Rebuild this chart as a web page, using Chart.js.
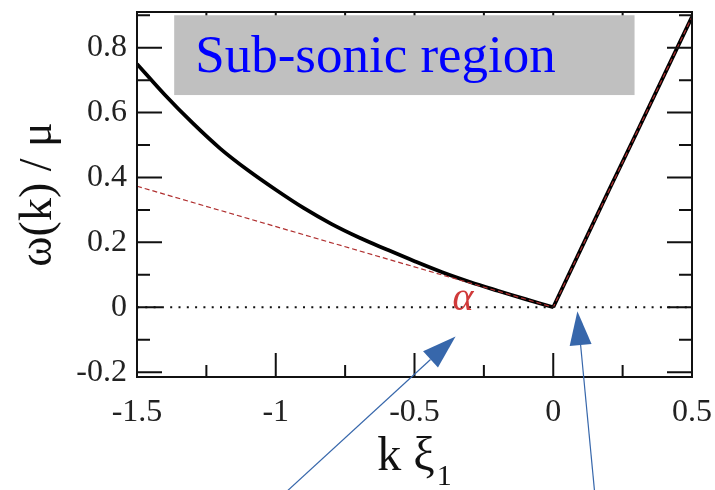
<!DOCTYPE html>
<html>
<head>
<meta charset="utf-8">
<script src="https://cdn.jsdelivr.net/npm/chart.js@4/dist/chart.umd.min.js"></script>
<style>
  body { margin: 0; background: #fff; }
  #wrap { width: 715px; height: 490px; }
</style>
</head>
<body>
<div id="wrap"><canvas id="chart" width="715" height="490"></canvas></div>
<script>
// dispersion curve, left and right of k = 0
const kLeft = [-1.5, -1.4, -1.3, -1.2, -1.1, -1.0, -0.9, -0.8, -0.7, -0.6, -0.5, -0.4, -0.3, -0.2, -0.1, 0];
const omegaLeft = [0.75, 0.655, 0.568, 0.489, 0.422, 0.362, 0.306, 0.257, 0.215, 0.178, 0.142, 0.108, 0.078, 0.051, 0.025, 0];
const kRight = [0, 0.1, 0.2, 0.3, 0.4, 0.5];
const omegaRight = [0, 0.18, 0.36, 0.537, 0.716, 0.895];
// red dashed tangent lines through the origin
const tangentK = [-1.5, 0, 0.5];
const tangentOmega = [0.373, 0, 0.895];
// dotted zero line
const zeroK = [-1.5, 0.5];
const zeroOmega = [0, 0];

// ticks
const xMajor = [-1.5, -1, -0.5, 0, 0.5];
const xLabels = ['-1.5', '-1', '-0.5', '0', '0.5'];
const xMinor = [-1.25, -0.75, -0.25, 0.25];
const yMajor = [-0.2, 0, 0.2, 0.4, 0.6, 0.8];
const yLabels = ['-0.2', '0', '0.2', '0.4', '0.6', '0.8'];
const yMinor = [-0.1, 0.1, 0.3, 0.5, 0.7, 0.9];

// annotations (data coordinates)
const boxK = [-1.366, 0.293];
const boxOmega = [0.9, 0.654];
const boxText = 'Sub-sonic region';
const alphaPos = [-0.325, 0.024];
const arrows = [
  { from: [-0.962, -0.569], to: [-0.352, -0.09] },
  { from: [0.149, -0.569], to: [0.087, -0.012] }
];

function pts(xs, ys) {
  return xs.map((x, i) => ({ x: x, y: ys[i] }));
}

const serif = '"Liberation Serif", "Times New Roman", serif';

const decorPlugin = {
  id: 'decor',
  afterDatasetsDraw(chart) {
    const ctx = chart.ctx;
    const xs = chart.scales.x, ys = chart.scales.y;
    const a = chart.chartArea;
    ctx.save();
    ctx.strokeStyle = '#111';
    ctx.lineWidth = 2;
    // inward ticks on all four sides
    const tick = (vals, len) => {
      vals.forEach(v => {
        const px = xs.getPixelForValue(v);
        ctx.beginPath();
        ctx.moveTo(px, a.bottom); ctx.lineTo(px, a.bottom - len);
        ctx.moveTo(px, a.top); ctx.lineTo(px, a.top + len);
        ctx.stroke();
      });
    };
    const tickY = (vals, len) => {
      vals.forEach(v => {
        const py = ys.getPixelForValue(v);
        ctx.beginPath();
        ctx.moveTo(a.left, py); ctx.lineTo(a.left + len, py);
        ctx.moveTo(a.right, py); ctx.lineTo(a.right - len, py);
        ctx.stroke();
      });
    };
    tick(xMajor, 24); tick(xMinor, 12);
    tickY(yMajor, 25); tickY(yMinor, 13);
    ctx.strokeRect(a.left, a.top, a.right - a.left, a.bottom - a.top);

    // grey label box
    const bx0 = xs.getPixelForValue(boxK[0]), bx1 = xs.getPixelForValue(boxK[1]);
    const by0 = ys.getPixelForValue(boxOmega[0]), by1 = ys.getPixelForValue(boxOmega[1]);
    ctx.fillStyle = '#c0c0c0';
    ctx.fillRect(bx0, by0, bx1 - bx0, by1 - by0);
    ctx.fillStyle = '#0000ff';
    ctx.font = '53px ' + serif;
    ctx.textBaseline = 'alphabetic';
    ctx.textAlign = 'left';
    ctx.fillText(boxText, bx0 + 21, by1 - 23);

    // alpha label
    ctx.fillStyle = '#d03a3a';
    ctx.font = 'italic 40px ' + serif;
    ctx.textAlign = 'center';
    ctx.textBaseline = 'alphabetic';
    ctx.fillText('α', xs.getPixelForValue(alphaPos[0]), ys.getPixelForValue(alphaPos[1]) + 11);

    // x axis title with subscript
    ctx.fillStyle = '#111';
    ctx.textAlign = 'left';
    ctx.font = '48px ' + serif;
    const w1 = ctx.measureText('k ξ').width;
    ctx.font = '30px ' + serif;
    const w2 = ctx.measureText('1').width;
    const x0 = (a.left + a.right) / 2 - (w1 + 2 + w2) / 2;
    ctx.font = '48px ' + serif;
    ctx.fillText('k ξ', x0, a.bottom + 93);
    ctx.font = '30px ' + serif;
    ctx.fillText('1', x0 + w1 + 2, a.bottom + 108);

    // blue arrows
    ctx.strokeStyle = '#3767ab';
    ctx.fillStyle = '#3767ab';
    ctx.lineWidth = 1.2;
    arrows.forEach(ar => {
      const x0 = xs.getPixelForValue(ar.from[0]), y0 = ys.getPixelForValue(ar.from[1]);
      const x1 = xs.getPixelForValue(ar.to[0]), y1 = ys.getPixelForValue(ar.to[1]);
      const ang = Math.atan2(y1 - y0, x1 - x0);
      const len = 34, half = 11;
      const bx = x1 - len * Math.cos(ang), by = y1 - len * Math.sin(ang);
      ctx.beginPath();
      ctx.moveTo(x0, y0); ctx.lineTo(bx, by);
      ctx.stroke();
      ctx.beginPath();
      ctx.moveTo(x1, y1);
      ctx.lineTo(bx + half * Math.sin(ang), by - half * Math.cos(ang));
      ctx.lineTo(bx - half * Math.sin(ang), by + half * Math.cos(ang));
      ctx.closePath();
      ctx.fill();
    });
    ctx.restore();
  }
};

new Chart(document.getElementById('chart'), {
  type: 'scatter',
  data: {
    datasets: [
      {
        data: pts(zeroK, zeroOmega),
        showLine: true, borderColor: '#111', borderWidth: 2,
        borderDash: [2, 6.3], pointRadius: 0
      },
      {
        data: pts(tangentK, tangentOmega),
        showLine: true, borderColor: '#b03030', borderWidth: 1.2,
        borderDash: [5, 3], pointRadius: 0
      },
      {
        data: pts(kLeft, omegaLeft),
        showLine: true, borderColor: '#000', borderWidth: 3.8,
        pointRadius: 0, tension: 0.35
      },
      {
        data: pts(kRight, omegaRight),
        showLine: true, borderColor: '#000', borderWidth: 3.8,
        pointRadius: 0, tension: 0
      }
    ]
  },
  options: {
    responsive: false,
    animation: false,
    layout: { padding: { top: 12, right: 23, left: 0, bottom: 0 } },
    plugins: { legend: { display: false }, tooltip: { enabled: false } },
    scales: {
      x: {
        type: 'linear', min: -1.5, max: 0.5,
        grid: { display: false, drawTicks: false }, border: { display: false },
        afterBuildTicks(s) { s.ticks = xMajor.map(v => ({ value: v })); },
        afterFit(s) { s.height = 113; s.paddingLeft = 0; s.paddingRight = 0; },
        ticks: {
          autoSkip: false, maxRotation: 0, padding: 16, color: '#222',
          font: { family: serif, size: 32 },
          callback: (v, i) => xLabels[i]
        },
        title: { display: false }
      },
      y: {
        type: 'linear', min: -0.215, max: 0.91,
        grid: { display: false, drawTicks: false }, border: { display: false },
        afterBuildTicks(s) { s.ticks = yMajor.map(v => ({ value: v })); },
        afterFit(s) { s.width = 137; s.paddingTop = 0; s.paddingBottom = 0; },
        ticks: {
          autoSkip: false, padding: 10, color: '#222',
          font: { family: serif, size: 32 },
          callback: (v, i) => yLabels[i]
        },
        title: {
          display: true, text: 'ω(k) / μ', color: '#111',
          font: { family: serif, size: 46, lineHeight: 1 },
          padding: { top: 16, bottom: 0 }
        }
      }
    }
  },
  plugins: [decorPlugin]
});
</script>
</body>
</html>
